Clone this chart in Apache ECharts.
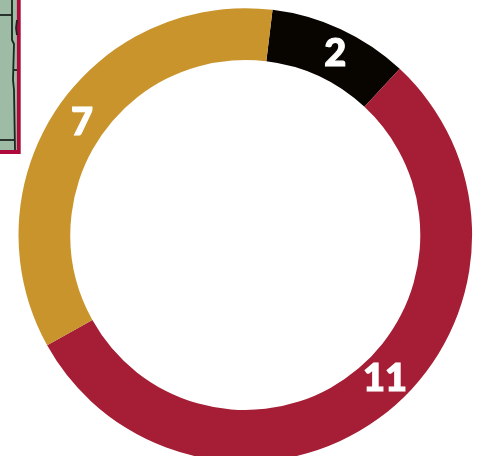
<!DOCTYPE html>
<html><head><meta charset="utf-8">
<style>html,body{margin:0;padding:0;background:#fff}#c{width:481px;height:456px}</style>
<script src="https://cdn.jsdelivr.net/npm/echarts@6/dist/echarts.min.js"></script></head>
<body><div id="c"></div>
<script>
const categories = ['Black', 'Red', 'Gold'];
const values = [2, 11, 7];
const colors = ['#080400', '#a51e36', '#c8942b'];
const labelOffsets = [[4, 4], [14, -17], [6, 1]];
const chart = echarts.init(document.getElementById('c'), null, {renderer: 'canvas'});
const line = (pts, w) => ({type: 'polyline', shape: {points: pts}, style: {stroke: '#1c2420', lineWidth: w || 1.8, fill: null}});
chart.setOption({
  animation: false,
  backgroundColor: '#fff',
  graphic: [
    {type: 'rect', shape: {x: -4, y: -4, width: 22.8, height: 156}, style: {fill: '#9dbba5', stroke: '#ae0a3e', lineWidth: 3.8}},
    line([[0, 15], [12, 15]]),
    line([[12, 0], [12, 40], [14, 44], [13, 80], [14, 90], [15, 150]]),
    line([[0, 140], [15, 140]]),
    line([[14, 70], [17, 70]]),
    line([[17, 20], [16, 28], [17, 35]])
  ],
  series: [{
    type: 'pie',
    center: [245.3, 235],
    radius: [175, 226.8],
    startAngle: 83.1,
    clockwise: true,
    silent: true,
    itemStyle: {borderWidth: 0},
    label: {
      show: true, position: 'inside', formatter: '{c}', color: '#fff',
      fontFamily: 'Lato', fontWeight: 900, fontSize: 38,
      textBorderColor: '#fff', textBorderWidth: 1.2
    },
    labelLine: {show: false},
    data: categories.map((n, i) => ({
      name: n, value: values[i], itemStyle: {color: colors[i]},
      label: {offset: labelOffsets[i]}
    }))
  }]
});
</script></body></html>
